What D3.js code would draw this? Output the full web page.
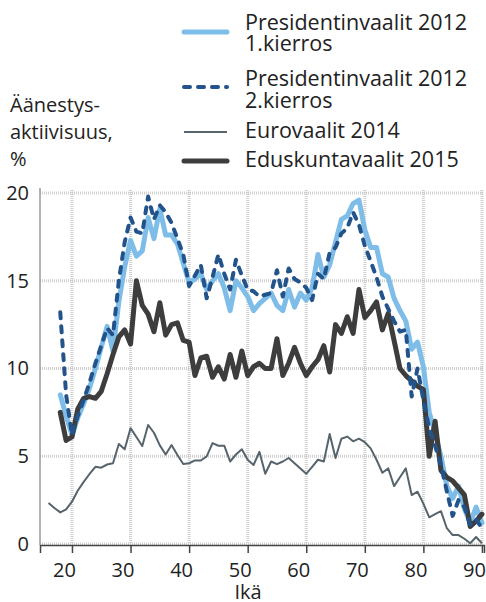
<!DOCTYPE html>
<html>
<head>
<meta charset="utf-8">
<script src="https://cdn.jsdelivr.net/npm/d3@7"></script>
<style>
html,body{margin:0;padding:0;background:#fff;}
svg{display:block;}
text{font-family:"Open Sans",sans-serif;fill:#222;}
</style>
</head>
<body>
<svg id="chart" width="486" height="602"></svg>
<script>
// ---- data ----
const ages = d3.range(18, 91);
const euroAges = d3.range(16, 91);
const seriesNames = ["Presidentinvaalit 2012|1.kierros", "Presidentinvaalit 2012|2.kierros", "Eurovaalit 2014", "Eduskuntavaalit 2015"];
const pres1 = [8.5,7.3,6.2,7.2,8.0,8.9,10.0,11.2,12.4,11.0,13.8,15.8,17.3,16.4,16.7,18.6,17.4,19.1,17.6,17.6,17.1,16.0,14.9,15.1,15.4,14.5,15.0,15.4,14.6,13.3,15.0,14.6,14.1,13.3,13.7,14.0,14.3,13.6,13.3,14.5,13.5,14.3,13.9,14.6,16.5,15.2,15.9,17.2,18.5,18.7,19.4,19.6,17.9,16.9,16.9,15.4,15.2,14.0,13.3,12.7,11.1,11.5,10.1,7.5,6.3,5.0,3.3,2.6,3.3,2.0,1.2,2.1,1.2];
const pres2 = [13.2,8.5,6.2,7.3,8.2,9.2,10.3,11.3,12.3,11.9,15.0,17.2,18.6,17.8,17.7,19.8,18.5,19.3,18.9,18.3,17.4,16.5,14.7,15.3,15.9,14.0,15.2,16.5,15.4,14.5,16.2,15.3,14.5,14.4,14.1,14.2,14.3,15.6,14.1,15.7,15.1,14.9,14.6,13.9,15.4,15.1,16.6,16.9,17.7,18.0,18.9,18.2,17.0,16.1,15.2,14.1,13.4,12.7,12.1,12.2,8.4,10.0,8.2,6.6,5.6,4.5,3.0,1.6,2.5,2.1,1.1,1.4,0.9];
const euro14 = [2.34,2.05,1.8,1.97,2.41,3.05,3.54,3.99,4.4,4.35,4.53,4.6,5.7,5.4,6.6,6.1,5.58,6.78,6.34,5.62,5.1,5.64,5.07,4.56,4.6,4.76,4.76,4.99,5.75,5.6,5.6,4.7,5.1,5.4,4.8,4.5,5.25,4.0,4.7,4.55,4.7,4.9,4.6,4.3,4.0,4.4,4.8,4.7,6.27,4.9,6.0,6.12,5.85,6.0,5.8,5.45,4.8,4.06,4.31,3.3,3.8,4.31,2.79,2.98,2.3,1.52,1.7,1.87,0.9,0.51,0.51,0.3,0.04,0.4,0.04];
const edus15 = [7.5,5.9,6.1,7.7,8.3,8.4,8.3,8.7,9.7,10.8,11.8,12.2,11.4,15.0,13.6,13.1,12.1,13.75,11.9,12.5,12.6,11.6,11.5,9.6,10.6,10.7,9.5,10.1,9.4,10.8,9.5,11.0,9.6,10.1,10.3,10.0,10.0,11.7,9.6,10.3,11.2,10.3,9.6,10.1,10.5,11.3,9.8,12.5,12.0,12.95,12.0,14.5,12.9,13.3,13.8,12.2,13.15,11.6,10.0,9.6,9.3,9.0,8.8,5.0,7.0,4.2,3.8,3.6,3.2,2.8,1.0,1.3,1.7];
const xTicks = [20,30,40,50,60,70,80,90];
const yTicks = [0,5,10,15,20];
const yTitle = ["Äänestys-", "aktiivisuus,", "%"];
const xTitle = "Ikä";

// ---- styles ----
const styles = [
  {color:"#7fbde9", width:5, dash:null, cap:"round"},
  {color:"#22538a", width:4, dash:"6,8", cap:"round"},
  {color:"#56646c", width:2, dash:null, cap:"butt"},
  {color:"#3d3d3d", width:5, dash:null, cap:"round"}
];

const svg = d3.select("#chart");
const x = d3.scaleLinear().domain([14.54, 90.35]).range([40, 484]);
const y = d3.scaleLinear().domain([0, 20]).range([544, 193]);

// grid
const grid = svg.append("g");
grid.selectAll("line.h").data(yTicks).join("line")
  .attr("x1", 40).attr("x2", 484)
  .attr("y1", d => y(d)).attr("y2", d => y(d))
  .attr("stroke", "#cfcfcf").attr("stroke-width", 3).attr("stroke-dasharray", "1,1");
grid.selectAll("line.v").data(xTicks).join("line")
  .attr("x1", d => x(d)).attr("x2", d => x(d))
  .attr("y1", 190).attr("y2", 544)
  .attr("stroke", "#cfcfcf").attr("stroke-width", 3).attr("stroke-dasharray", "1,1");

// axes
const xAxis = svg.append("g").attr("transform", "translate(0,545)")
  .call(d3.axisBottom(x).tickValues(xTicks).tickSize(8).tickPadding(10).tickFormat(d3.format("d")));
xAxis.select(".domain").attr("stroke", "#444").attr("stroke-width", 1.5);
xAxis.selectAll(".tick line").attr("stroke", "#444").attr("stroke-width", 1.5);
xAxis.selectAll(".tick text").attr("font-size", 20).attr("font-family", "Open Sans").attr("fill", "#222").attr("dx", -8);

const yAxis = svg.append("g").attr("transform", "translate(40,0)")
  .call(d3.axisLeft(y).tickValues(yTicks).tickSize(0).tickPadding(11).tickFormat(d3.format("d")));
yAxis.select(".domain").attr("stroke", "#999").attr("stroke-width", 1.5).attr("d", "M0,188V545");
yAxis.selectAll(".tick text").attr("font-size", 20).attr("font-family", "Open Sans").attr("fill", "#222");

svg.append("text").attr("x", 248).attr("y", 599).attr("text-anchor", "middle")
  .attr("font-size", 20).text(xTitle);

svg.append("g").selectAll("text").data(yTitle).join("text")
  .attr("x", 10).attr("y", (d, i) => 112 + i * 27)
  .attr("font-size", 20).text(d => d);

// lines
const line = d3.line().x(d => x(d[0])).y(d => y(d[1]));
const seriesData = [
  ages.map((a, i) => [a, pres1[i]]),
  ages.map((a, i) => [a, pres2[i]]),
  euroAges.map((a, i) => [a, euro14[i]]),
  ages.map((a, i) => [a, edus15[i]])
];
const order = [2, 0, 3, 1];
const plot = svg.append("g");
order.forEach(k => {
  const s = styles[k];
  plot.append("path").datum(seriesData[k])
    .attr("d", line).attr("fill", "none")
    .attr("stroke", s.color).attr("stroke-width", s.width)
    .attr("stroke-linejoin", "round").attr("stroke-linecap", s.cap)
    .attr("stroke-dasharray", s.dash);
});

// legend
const legendY = [32, 87, 132, 161];
const textY = [[30, 51], [86, 108], [138], [167]];
const lg = svg.append("g");
seriesNames.forEach((name, k) => {
  const s = styles[k];
  lg.append("line").attr("x1", 184).attr("x2", 227)
    .attr("y1", legendY[k]).attr("y2", legendY[k])
    .attr("stroke", s.color).attr("stroke-width", s.width)
    .attr("stroke-linecap", s.cap).attr("stroke-dasharray", s.dash);
  name.split("|").forEach((t, j) => {
    lg.append("text").attr("x", 245).attr("y", textY[k][j])
      .attr("font-size", 21.5).text(t);
  });
});
</script>
</body>
</html>
